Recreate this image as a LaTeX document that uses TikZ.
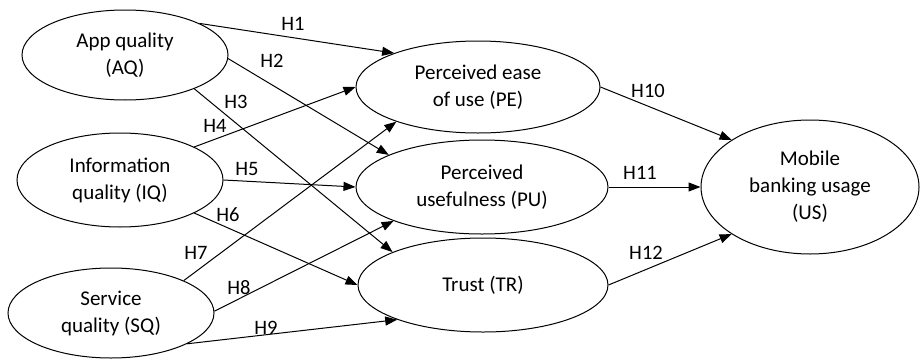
\documentclass[tikz,border=0pt]{standalone}
\usepackage{fontspec}
\setmainfont{Carlito}
\usetikzlibrary{shapes.geometric,arrows.meta}
\begin{document}
\begin{tikzpicture}[x=1pt,y=-1pt,
  construct/.style={ellipse,draw,line width=1pt,inner sep=0pt,align=center,
    font=\fontsize{21}{27}\selectfont},
  path/.style={draw,line width=1pt,-{Triangle[length=12pt,width=9pt]}},
  hyp/.style={font=\fontsize{20.5}{24}\selectfont,inner sep=0pt}]
\useasboundingbox (0,0) rectangle (920,359);
\node[construct,minimum width=206pt,minimum height=90pt] (AQ) at (125,55) {App quality\\(AQ)};
\node[construct,minimum width=206pt,minimum height=94pt] (IQ) at (120,180) {Information\\quality (IQ)};
\node[construct,minimum width=206pt,minimum height=90pt] (SQ) at (111,313) {Service\\quality (SQ)};
\node[construct,minimum width=244pt,minimum height=92pt] (PE) at (478,87) {Perceived ease\\of use (PE)};
\node[construct,minimum width=252pt,minimum height=94pt] (PU) at (482,187) {Perceived\\usefulness (PU)};
\node[construct,minimum width=250pt,minimum height=94pt] (TR) at (483,285) {Trust (TR)};
\node[construct,minimum width=218pt,minimum height=134pt] (US) at (810,187) {Mobile\\banking usage\\(US)};

\draw[path] (AQ.23) -- (PE.158);
\draw[path] (AQ.-2) -- (PU.161);
\draw[path] (AQ.-26) -- (TR.160);
\draw[path] (IQ.24) -- (PE.180);
\draw[path] (IQ.0) -- (PU.180);
\draw[path] (IQ.-24) -- (TR.180);
\draw[path] (SQ.24) -- (PE.203);
\draw[path] (SQ.1) -- (PU.201);
\draw[path] (SQ.-22) -- (TR.202);
\draw[path] (PE.0) -- (US.149);
\draw[path] (PU.0) -- (US.180);
\draw[path] (TR.0) -- (US.211);

\node[hyp] (h1) at (293,24) {H1};
\node[hyp] (h2) at (272,61) {H2};
\node[hyp] (h3) at (236,102) {H3};
\node[hyp] (h4) at (215,126) {H4};
\node[hyp] (h5) at (247,169) {H5};
\node[hyp] (h6) at (228,215) {H6};
\node[hyp] (h7) at (196,253) {H7};
\node[hyp] (h8) at (239,288) {H8};
\node[hyp] (h9) at (266,328) {H9};
\node[hyp] (h10) at (648,91) {H10};
\node[hyp] (h11) at (640,173) {H11};
\node[hyp] (h12) at (646,253) {H12};
\end{tikzpicture}
\end{document}
